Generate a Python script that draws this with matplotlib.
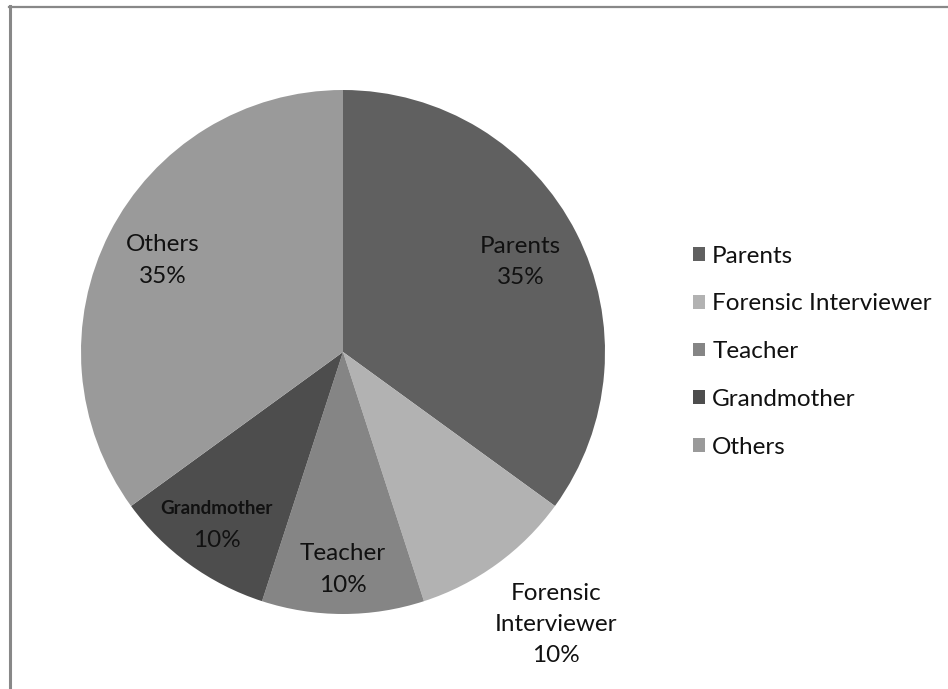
import matplotlib
matplotlib.use("Agg")
import matplotlib.pyplot as plt
from matplotlib.lines import Line2D
import numpy as np

plt.rcParams['font.family'] = ['Lato', 'DejaVu Sans']

categories = ["Parents", "Forensic Interviewer", "Teacher", "Grandmother", "Others"]
shares = [35, 10, 10, 10, 35]
slice_labels = ["Parents", "Forensic\nInterviewer", "Teacher", "Grandmother", "Others"]
colors = ["#606060", "#b2b2b2", "#858585", "#4d4d4d", "#9a9a9a"]
label_dist = [0.76, 1.32, 0.83, 0.82, 0.77]
label_turn = [0, 2.0, 0, 0, 0]  # small angular nudge for label placement (degrees)
label_bold = [False, False, False, True, False]

W, H = 948, 689
fig = plt.figure(figsize=(W / 100, H / 100), dpi=100)
fig.patch.set_facecolor("white")

cx, cy, r = 343, 352, 262
ax = fig.add_axes([(cx - r) / W, (H - cy - r) / H, 2 * r / W, 2 * r / H])
wedges, _ = ax.pie(shares, colors=colors, startangle=90, counterclock=False,
                   radius=1.0, wedgeprops=dict(linewidth=0))
ax.set_xlim(-1, 1)
ax.set_ylim(-1, 1)
ax.axis("off")

total = sum(shares)
start = 90.0
for val, lab, d, turn, bold in zip(shares, slice_labels, label_dist, label_turn, label_bold):
    span = 360.0 * val / total
    mid = np.deg2rad(start - span / 2 + turn)
    start -= span
    x, y = d * np.cos(mid), d * np.sin(mid)
    pct = f"{round(100 * val / total)}%"
    if bold:
        ax.text(x, y + 0.065, lab, ha="center", va="center", fontsize=13.5,
                fontweight="bold", color="#111111")
        ax.text(x, y - 0.055, pct, ha="center", va="center", fontsize=17.5,
                color="#111111")
    else:
        ax.text(x, y, lab + "\n" + pct, ha="center", va="center", fontsize=17.5,
                color="#111111", linespacing=1.6)

leg = fig.legend(wedges, categories, loc="upper left",
                 bbox_to_anchor=(683 / W, 1 - 236 / H), frameon=False,
                 fontsize=17.5, handlelength=0.5, handleheight=0.5,
                 handletextpad=0.3, labelspacing=1.1, borderaxespad=0)
for t in leg.get_texts():
    t.set_color("#111111")

# outer frame (top and left edges)
fig.add_artist(Line2D([9 / W, 1], [1 - 6.5 / H, 1 - 6.5 / H],
                      transform=fig.transFigure, color="#888888", linewidth=1.6))
fig.add_artist(Line2D([10 / W, 10 / W], [0, 1 - 5.5 / H],
                      transform=fig.transFigure, color="#888888", linewidth=2.2))

fig.savefig("out.png", dpi=100)
